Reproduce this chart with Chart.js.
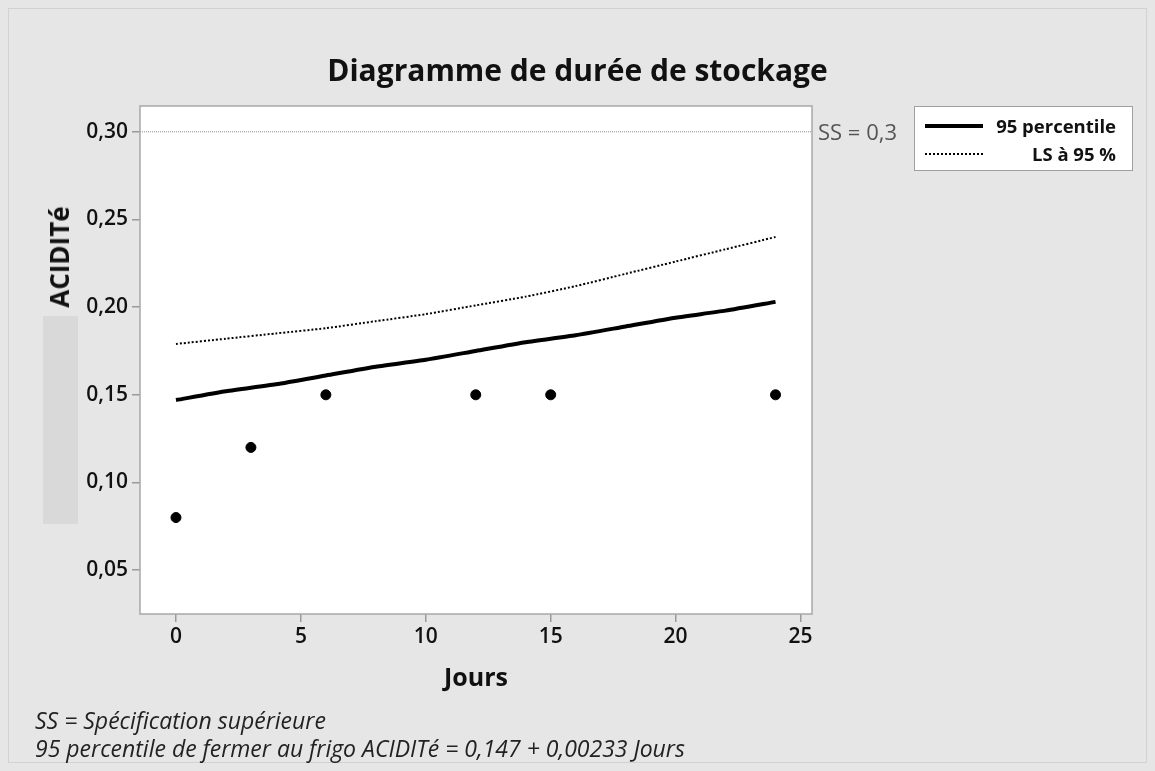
<!DOCTYPE html>
<html>
<head>
<meta charset="utf-8">
<script src="https://cdn.jsdelivr.net/npm/chart.js@4.4.1/dist/chart.umd.min.js"></script>
<style>
    html, body { margin: 0; padding: 0; }
    body { width: 1155px; height: 771px; background: #e6e6e6; position: relative; overflow: hidden; font-family: "Open Sans", "Noto Sans", sans-serif; color: #111; }
    .frame { position: absolute; left: 8px; top: 8px; width: 1137px; height: 753px; border: 1px solid #d2d2d2; }
    #wrap { position: absolute; left: 0; top: 0; width: 1155px; height: 771px; }
    .txt { position: absolute; white-space: nowrap; }
    .title { left: 0; width: 1155px; top: 49px; text-align: center; font-size: 30px; font-weight: 700; line-height: 42px; }
    .xlab { left: 140px; width: 672px; top: 658px; text-align: center; font-size: 25px; font-weight: 700; line-height: 36px; }
    .ylab { left: 59px; top: 257px; font-size: 26px; font-weight: 700; transform: translate(-50%, -50%) rotate(-90deg); }
    .ybox { position: absolute; left: 43px; top: 316px; width: 35px; height: 208px; background: #d9d9d9; }
    .ss { left: 818px; top: 116px; font-size: 22px; color: #555; line-height: 30px; }
    .legend { position: absolute; left: 914px; top: 106px; width: 217px; height: 63px; background: #fff; border: 1px solid #a0a0a0; }
    .legend .row { position: absolute; left: 0; width: 217px; height: 26px; }
    .legend .sample { position: absolute; left: 10px; width: 58px; top: 13px; }
    .legend .name { position: absolute; right: 16px; top: 0; font-size: 18.5px; font-weight: 700; line-height: 26px; }
    .foot { left: 35px; font-size: 23px; font-style: italic; color: #222; line-height: 28px; }
</style>
</head>
<body>
<div class="frame"></div>
<div class="ybox"></div>
<div id="wrap"><canvas id="chart" width="1155" height="771"></canvas></div>
<div class="txt title">Diagramme de durée de stockage</div>
<div class="txt xlab">Jours</div>
<div class="txt ylab">ACIDITé</div>
<div class="txt ss">SS = 0,3</div>
<div class="legend">
    <div class="row" style="top:6px">
        <div class="sample" style="border-top:4px solid #000; margin-top:-2px"></div>
        <div class="name">95 percentile</div>
    </div>
    <div class="row" style="top:34px">
        <div class="sample" style="border-top:2px dotted #000; margin-top:-1px"></div>
        <div class="name">LS à 95 %</div>
    </div>
</div>
<div class="txt foot" style="top:706px">SS = Spécification supérieure</div>
<div class="txt foot" style="top:734px">95 percentile de fermer au frigo ACIDITé = 0,147 + 0,00233 Jours</div>

<script>
// observations
const obsDays = [0, 3, 6, 12, 15, 24];
const obsAcidity = [0.08, 0.12, 0.15, 0.15, 0.15, 0.15];

// curves
const curveDays = [0, 2, 4, 6, 8, 10, 12, 14, 16, 18, 20, 22, 24];
const percentile95 = [0.147, 0.152, 0.156, 0.161, 0.166, 0.170, 0.175, 0.180, 0.184, 0.189, 0.194, 0.198, 0.203];
const upperBound95 = [0.179, 0.182, 0.185, 0.188, 0.192, 0.196, 0.201, 0.206, 0.212, 0.219, 0.226, 0.233, 0.240];

const specLimit = 0.3;

const xTicks = [0, 5, 10, 15, 20, 25];
const yTicks = [0.05, 0.10, 0.15, 0.20, 0.25, 0.30];
const xMin = -1.44, xMax = 25.46;
const yMin = 0.025, yMax = 0.3147;

const toPoints = (xs, ys) => xs.map((x, i) => ({ x: x, y: ys[i] }));

const plotFrame = {
    id: 'plotFrame',
    beforeDatasetsDraw(chart) {
        const a = chart.chartArea;
        const ctx = chart.ctx;
        ctx.save();
        ctx.fillStyle = '#fff';
        ctx.fillRect(a.left, a.top, a.right - a.left, a.bottom - a.top);
        ctx.restore();
    },
    afterDatasetsDraw(chart) {
        const a = chart.chartArea;
        const ctx = chart.ctx;
        ctx.save();
        ctx.strokeStyle = '#a8a8a8';
        ctx.lineWidth = 1.5;
        ctx.strokeRect(a.left, a.top, a.right - a.left, a.bottom - a.top);
        ctx.restore();
    }
};

const tickFont = { family: 'Open Sans', size: 21, weight: '600' };

new Chart(document.getElementById('chart').getContext('2d'), {
    type: 'scatter',
    data: {
        datasets: [
            {
                label: 'SS',
                type: 'line',
                data: toPoints([xMin, xMax], [specLimit, specLimit]),
                borderColor: '#8c8c8c',
                borderWidth: 1,
                borderDash: [1, 1],
                pointRadius: 0,
                order: 3
            },
            {
                label: 'LS à 95 %',
                type: 'line',
                data: toPoints(curveDays, upperBound95),
                borderColor: '#000',
                borderWidth: 2,
                borderDash: [2, 2],
                pointRadius: 0,
                tension: 0.2,
                order: 2
            },
            {
                label: '95 percentile',
                type: 'line',
                data: toPoints(curveDays, percentile95),
                borderColor: '#000',
                borderWidth: 4,
                pointRadius: 0,
                tension: 0.2,
                order: 1
            },
            {
                label: 'ACIDITé',
                data: toPoints(obsDays, obsAcidity),
                backgroundColor: '#000',
                borderColor: '#000',
                pointRadius: 5,
                pointHoverRadius: 5,
                order: 0
            }
        ]
    },
    options: {
        responsive: false,
        animation: false,
        layout: { padding: { left: 0, top: 106, right: 343, bottom: 97 } },
        plugins: {
            legend: { display: false },
            tooltip: { enabled: false },
            title: { display: false }
        },
        scales: {
            x: {
                type: 'linear',
                min: xMin,
                max: xMax,
                afterBuildTicks: scale => { scale.ticks = xTicks.map(v => ({ value: v })); },
                afterFit: scale => { scale.height = 60; },
                border: { display: false },
                grid: { drawOnChartArea: false, drawTicks: true, tickLength: 8, tickColor: '#9a9a9a', lineWidth: 1.5 },
                ticks: {
                    padding: 2,
                    color: '#111',
                    font: tickFont,
                    callback: v => String(v)
                }
            },
            y: {
                type: 'linear',
                min: yMin,
                max: yMax,
                afterBuildTicks: scale => { scale.ticks = yTicks.map(v => ({ value: v })); },
                afterFit: scale => { scale.width = 140; },
                border: { display: false },
                grid: { drawOnChartArea: false, drawTicks: true, tickLength: 8, tickColor: '#9a9a9a', lineWidth: 1.5 },
                ticks: {
                    padding: 4,
                    color: '#111',
                    font: tickFont,
                    callback: v => v.toFixed(2).replace('.', ',')
                }
            }
        }
    },
    plugins: [plotFrame]
});
</script>
</body>
</html>
